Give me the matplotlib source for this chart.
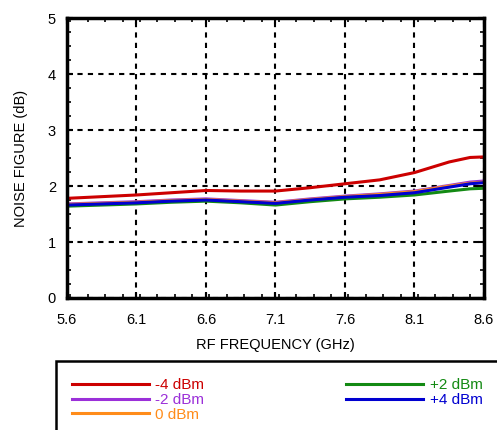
import matplotlib
matplotlib.use("Agg")
import matplotlib.pyplot as plt
from matplotlib.patches import Rectangle
from matplotlib.ticker import MultipleLocator

plt.rcParams["font.family"] = ["Liberation Sans", "DejaVu Sans"]

freq = [5.6, 5.85, 6.1, 6.35, 6.6, 6.85, 7.1, 7.35, 7.6, 7.85, 8.1, 8.35, 8.5, 8.6]

nf_m4 = [1.78, 1.81, 1.84, 1.88, 1.92, 1.91, 1.91, 1.97, 2.04, 2.11, 2.24, 2.43, 2.51, 2.52]
nf_m2 = [1.68, 1.70, 1.72, 1.75, 1.77, 1.74, 1.71, 1.77, 1.82, 1.86, 1.91, 2.01, 2.07, 2.09]
nf_0 = [1.67, 1.69, 1.71, 1.74, 1.76, 1.73, 1.70, 1.76, 1.81, 1.85, 1.90, 2.00, 2.05, 2.07]
nf_p2 = [1.64, 1.66, 1.68, 1.71, 1.73, 1.70, 1.66, 1.72, 1.77, 1.80, 1.84, 1.91, 1.95, 1.96]
nf_p4 = [1.66, 1.68, 1.70, 1.73, 1.75, 1.72, 1.69, 1.75, 1.80, 1.83, 1.88, 1.98, 2.04, 2.06]

labels = ["-4 dBm", "-2 dBm", "0 dBm", "+2 dBm", "+4 dBm"]
colors = ["#cc0000", "#9b30d9", "#ff8c1a", "#138a13", "#0000d0"]
series = [nf_m4, nf_m2, nf_0, nf_p2, nf_p4]

x_ticks = [5.6, 6.1, 6.6, 7.1, 7.6, 8.1, 8.6]

fig = plt.figure(figsize=(4.97, 4.30), dpi=100)
ax = fig.add_axes([0.1348, 0.307, 0.839, 0.651])

lines = []
for y, c, lab in zip(series, colors, labels):
    (ln,) = ax.plot(freq, y, color=c, linewidth=2.2, label=lab)
    lines.append(ln)

ax.set_xlim(5.6, 8.6)
ax.set_ylim(0, 5)
ax.set_xticks(x_ticks)
ax.set_xticklabels([f"{v:.1f}" for v in x_ticks])
ax.set_yticks(range(6))
ax.xaxis.set_minor_locator(MultipleLocator(0.125))
ax.yaxis.set_minor_locator(MultipleLocator(0.25))

ax.grid(True, which="major", color="black", linestyle=(0, (2.5, 2.5)), linewidth=1.5)
ax.tick_params(which="both", direction="in", top=True, right=True, colors="black")
ax.tick_params(which="major", length=4, width=1.5, labelsize=10.5)
ax.tick_params(which="minor", length=3, width=1.2)
ax.tick_params(axis="x", which="major", pad=11)
ax.tick_params(axis="y", which="major", pad=8)
for s in ax.spines.values():
    s.set_linewidth(2.5)

ax.set_xlabel("RF FREQUENCY (GHz)", fontsize=10.5, labelpad=8)
ax.set_ylabel("NOISE FIGURE (dB)", fontsize=10.5, labelpad=14)

# legend box runs off the figure edge
fig.patches.append(Rectangle((56 / 497, -0.1), 0.95, (430 - 361) / 430 + 0.1,
                             transform=fig.transFigure, fill=False,
                             edgecolor="black", linewidth=1.8))
fig.legend(handles=lines, ncol=2, loc="upper left",
           bbox_to_anchor=(66 / 497, 1 - 372 / 430),
           frameon=False, fontsize=11, labelcolor="linecolor",
           handlelength=5.0, handletextpad=0.45, columnspacing=9.3,
           labelspacing=0.05, borderaxespad=0)

fig.savefig("out.png", dpi=100)
